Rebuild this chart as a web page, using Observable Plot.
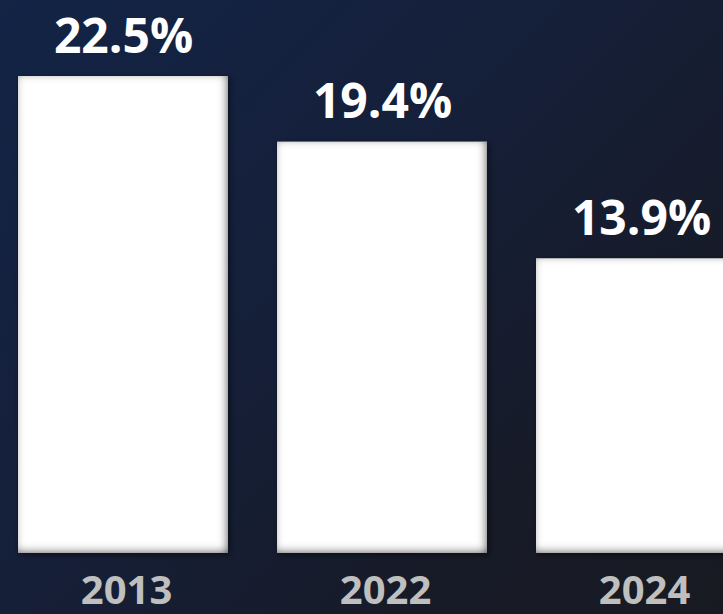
<!DOCTYPE html>
<html>
<head>
<meta charset="utf-8">
<script src="https://cdn.jsdelivr.net/npm/d3@7"></script>
<script src="https://cdn.jsdelivr.net/npm/@observablehq/plot@0.6"></script>
<style>
  html, body { margin: 0; padding: 0; }
  body { width: 723px; height: 614px; overflow: hidden;
    background: linear-gradient(135deg, #132446 0%, #151f38 45%, #171b28 75%, #171a21 100%); }
  svg { display: block; background: transparent !important; }
</style>
</head>
<body>
<div id="chart"></div>
<script>
const years = ["2013", "2022", "2024"];
const values = [22.5, 19.4, 13.9];
const labels = ["22.5%", "19.4%", "13.9%"];

const data = years.map((year, i) => ({year, value: values[i], label: labels[i]}));

const chart = Plot.plot({
  width: 723,
  height: 614,
  margin: 0,
  style: {background: "transparent", fontFamily: "'Open Sans', sans-serif"},
  x: {domain: years, range: [17, 746], paddingInner: 0.19, paddingOuter: 0, axis: null},
  y: {domain: [0, 22.5], range: [553, 76], axis: null},
  marks: [
    Plot.barY(data, {x: "year", y: "value", fill: "white"}),
    Plot.text(data, {x: "year", y: "value", text: "label", lineAnchor: "bottom", dy: -24,
      fill: "white", fontSize: 48, fontWeight: "bold"}),
    Plot.text(data, {x: "year", frameAnchor: "bottom", text: "year", lineAnchor: "bottom", dy: -11, dx: 3,
      fill: "#bfbfbf", fontSize: 40, fontWeight: "bold"})
  ]
});

const ns = "http://www.w3.org/2000/svg";
const defs = document.createElementNS(ns, "defs");
defs.innerHTML = `
<filter id="bevel" x="-5%" y="-5%" width="110%" height="110%">
  <feGaussianBlur in="SourceAlpha" stdDeviation="4.5" result="blur"/>
  <feOffset in="blur" dx="-2" dy="-2" result="blurOff"/>
  <feComposite in="SourceAlpha" in2="blurOff" operator="out" result="edge"/>
  <feFlood flood-color="#555555"/>
  <feComposite in2="edge" operator="in" result="shade"/>
  <feGaussianBlur in="SourceAlpha" stdDeviation="3" result="oblur"/>
  <feOffset in="oblur" dx="2" dy="2" result="oOff"/>
  <feFlood flood-color="#000" flood-opacity="0.5"/>
  <feComposite in2="oOff" operator="in" result="drop"/>
  <feMerge><feMergeNode in="drop"/><feMergeNode in="SourceGraphic"/><feMergeNode in="shade"/></feMerge>
</filter>`;
chart.insertBefore(defs, chart.firstChild);
chart.querySelectorAll("g[aria-label='bar'] rect").forEach(r => r.setAttribute("filter", "url(#bevel)"));
document.getElementById("chart").appendChild(chart);
</script>
</body>
</html>
